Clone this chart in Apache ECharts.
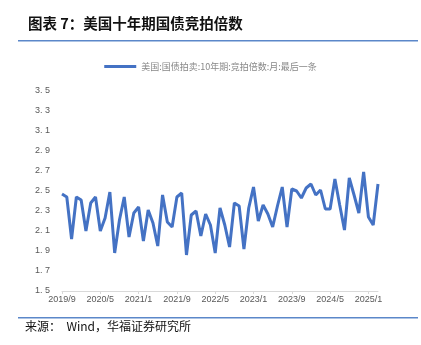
<!DOCTYPE html>
<html>
<head>
<meta charset="utf-8">
<script src="https://cdn.jsdelivr.net/npm/echarts@6/dist/echarts.min.js"></script>
<style>
html,body{margin:0;padding:0;background:#fff;}
#c{width:421px;height:345px;}
</style>
</head>
<body>
<div id="c"></div>
<script>
var titleText = '图表 7：美国十年期国债竞拍倍数';
var sourceText = '来源：  Wind，华福证券研究所';
var seriesName = '美国:国债拍卖:10年期:竞拍倍数:月:最后一条';
var startYear = 2019, startMonth = 9;
var values = [
  2.47, 2.44, 2.02, 2.44, 2.41, 2.10, 2.38, 2.44, 2.10, 2.23, 2.49, 1.88,
  2.21, 2.44, 2.04, 2.28, 2.34, 2.00, 2.31, 2.18, 1.95, 2.46, 2.19, 2.14,
  2.44, 2.48, 1.86, 2.26, 2.30, 2.05, 2.27, 2.16, 1.88, 2.33, 2.16, 1.94,
  2.38, 2.35, 1.92, 2.33, 2.54, 2.20, 2.36, 2.27, 2.14, 2.35, 2.54, 2.14,
  2.52, 2.50, 2.43, 2.53, 2.57, 2.46, 2.51, 2.32, 2.32, 2.62, 2.36, 2.11,
  2.63, 2.46, 2.28, 2.69, 2.24, 2.16, 2.57
];
var categories = values.map(function(v, i){
  var m = startMonth - 1 + i;
  return (startYear + Math.floor(m / 12)) + '/' + (m % 12 + 1);
});
var yMin = 1.5, yMax = 3.5, yStep = 0.2;

var chart = echarts.init(document.getElementById('c'), null, {renderer:'canvas'});
chart.setOption({
  animation: false,
  backgroundColor: '#fff',
  graphic: [
    {type:'text', left:28, top:16, style:{text:titleText, font:'bold 14.5px "Noto Sans CJK SC", sans-serif', fill:'#111'}},
    {type:'rect', shape:{x:18, y:40, width:400, height:1.5}, style:{fill:'#5b87c9'}},
    {type:'rect', shape:{x:18, y:317, width:400, height:1.5}, style:{fill:'#5b87c9'}},
    {type:'text', left:25, top:320, style:{text:sourceText, font:'12px "Noto Sans CJK SC", sans-serif', fill:'#111'}}
  ],
  legend: {
    top: 57, left: 'center',
    itemWidth: 32, itemHeight: 3, itemGap: 5,
    icon: 'rect',
    textStyle: {fontSize: 9, color: '#888', fontFamily: '"Noto Sans CJK SC", sans-serif'},
    data: [seriesName]
  },
  grid: {left: 62, right: 43, top: 91, bottom: 54},
  xAxis: {
    type: 'category', boundaryGap: false, data: categories,
    axisLine: {lineStyle: {color: '#d9d9d9'}},
    axisTick: {interval: 7, lineStyle: {color: '#d9d9d9'}, length: 3},
    axisLabel: {interval: 7, fontSize: 9, color: '#595959', margin: 4, fontFamily: 'Arial, "Liberation Sans", sans-serif'}
  },
  yAxis: {
    type: 'value', min: yMin, max: yMax, interval: yStep,
    axisLine: {show: false}, axisTick: {show: false}, splitLine: {show: false},
    axisLabel: {fontSize: 9, color: '#595959', margin: 12, fontFamily: 'Arial, "Liberation Sans", sans-serif',
      formatter: function(v){ return v.toFixed(1).replace('.', '. '); }}
  },
  series: [{
    name: seriesName, type: 'line', data: values, symbol: 'none',
    lineStyle: {color: '#4472c4', width: 3}, itemStyle: {color: '#4472c4'}
  }]
});
</script>
</body>
</html>
